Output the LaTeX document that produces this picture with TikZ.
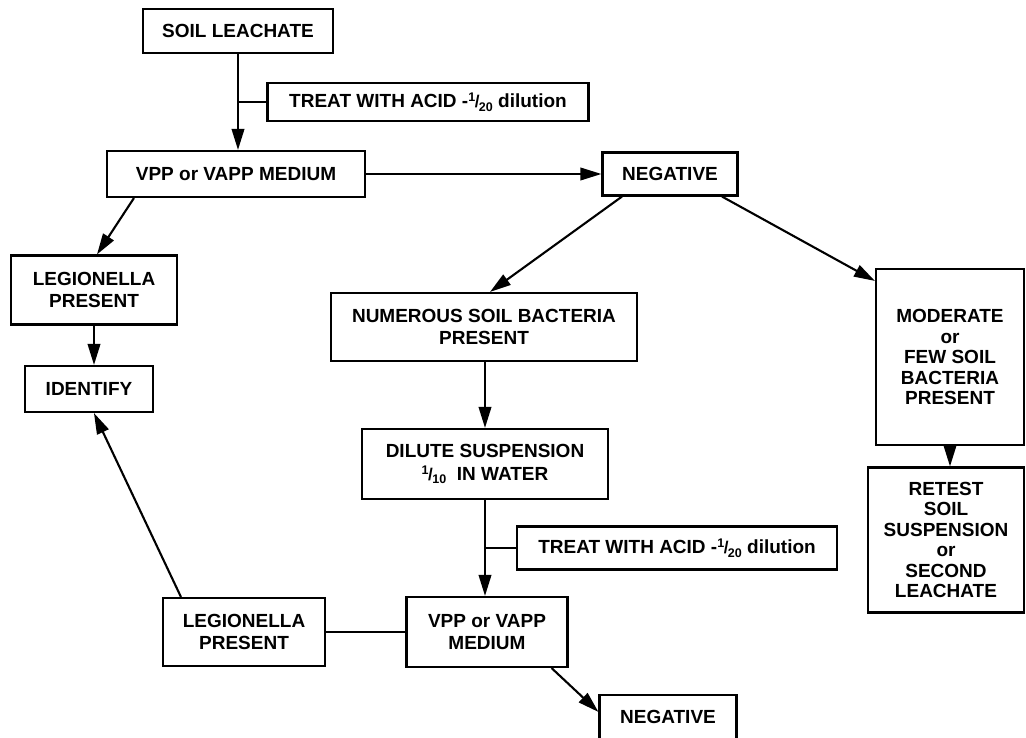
\documentclass[tikz,border=0pt]{standalone}
\usepackage{fontspec}
\setmainfont{Liberation Sans}
\usetikzlibrary{arrows.meta}
\newcommand\myfrac[2]{\raisebox{0.6ex}{\fontsize{12.5}{12.5}\selectfont #1}\kern-0.5pt{\fontsize{17}{17}\selectfont /}\kern-0.5pt\raisebox{-0.35ex}{\fontsize{12.5}{12.5}\selectfont #2}}
\begin{document}
\begin{tikzpicture}[x=1pt,y=-1pt,
  box/.style={draw=black, line width=2.1pt, inner sep=0pt, align=center,
    font=\fontsize{19}{22.5}\selectfont\bfseries, text=black},
  tight/.style={font=\fontsize{19}{20.5}\selectfont\bfseries},
  arr/.style={line width=2.1pt, -{Triangle[length=21pt,width=12.5pt]}},
  ln/.style={line width=2.1pt}]
\fill[white] (0,0) rectangle (1026,738);
\useasboundingbox (0,0) rectangle (1026,738);

\node[box, minimum width=190pt, minimum height=44pt] (soil) at (238,31) {SOIL LEACHATE};
\node[box, minimum width=321pt, minimum height=38pt] (treat1) at (428,102) {TREAT WITH ACID -\myfrac{1}{20} dilution};
\node[box, minimum width=258pt, minimum height=46pt] (vpp1) at (236,174) {VPP or VAPP MEDIUM};
\node[box, minimum width=135pt, minimum height=43pt] (neg1) at (670,174) {NEGATIVE};
\node[box, minimum width=166pt, minimum height=69pt] (leg1) at (94,290) {LEGIONELLA\\PRESENT};
\node[box, minimum width=128pt, minimum height=46pt] (ident) at (89,389) {IDENTIFY};
\node[box, minimum width=306pt, minimum height=68pt] (num) at (484,327) {NUMEROUS SOIL BACTERIA\\PRESENT};
\node[box, tight, minimum width=148pt, minimum height=176pt] (mod) at (950,357) {MODERATE\\or\\FEW SOIL\\BACTERIA\\PRESENT};
\node[box, tight, minimum width=156pt, minimum height=145pt] (ret) at (946,540) {RETEST\\SOIL\\SUSPENSION\\or\\SECOND\\LEACHATE};
\node[box, minimum width=246pt, minimum height=70pt] (dil) at (485,464) {DILUTE SUSPENSION\\\myfrac{1}{10}\ \ IN WATER};
\node[box, minimum width=320pt, minimum height=43pt] (treat2) at (677,548) {TREAT WITH ACID -\myfrac{1}{20} dilution};
\node[box, minimum width=161pt, minimum height=70pt] (vpp2) at (487,632) {VPP or VAPP\\MEDIUM};
\node[box, minimum width=162pt, minimum height=68pt] (leg2) at (244,632) {LEGIONELLA\\PRESENT};
\node[box, minimum width=137pt, minimum height=44pt] (neg2) at (668,717) {NEGATIVE};

\draw[arr] (soil.south) -- (soil.south |- vpp1.north);
\draw[ln] (treat1.west) -- (treat1.west -| soil.south);
\draw[arr] (vpp1.east) -- (neg1.west);
\draw[arr] ([xshift=28pt]vpp1.south west) -- ([xshift=3pt]leg1.north);
\draw[arr] (leg1.south) -- (leg1.south |- ident.north);
\draw[arr] ([xshift=-48pt]neg1.south) -- ([xshift=6pt]num.north);
\draw[arr] ([xshift=52pt]neg1.south) -- ([yshift=-13pt]mod.north west);
\draw[arr] (mod.south) -- (mod.south |- ret.north);
\draw[arr] (num.south -| dil.north) -- (dil.north);
\draw[arr] (dil.south) -- (dil.south |- vpp2.north);
\draw[ln] (treat2.west) -- (treat2.west -| dil.south);
\draw[ln] (leg2.east) -- (vpp2.west);
\draw[arr] ([xshift=19pt]leg2.north west) -- ([xshift=70pt]ident.south west);
\draw[arr] ([xshift=-17pt]vpp2.south east) -- ([yshift=-18pt]neg2.north west);
\end{tikzpicture}
\end{document}
